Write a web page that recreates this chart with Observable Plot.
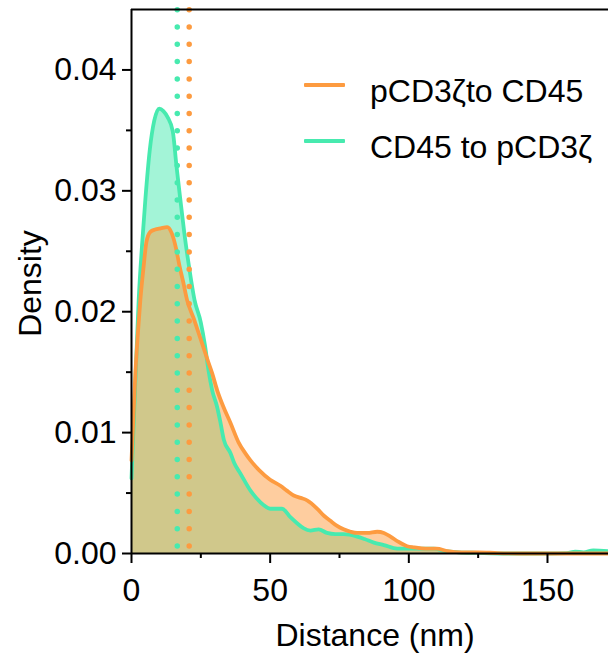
<!DOCTYPE html>
<html><head><meta charset="utf-8">
<script src="https://cdn.jsdelivr.net/npm/d3@7"></script>
<script src="https://cdn.jsdelivr.net/npm/@observablehq/plot@0.6"></script>
<style>
body{margin:0;background:#fff;font-family:"Liberation Sans",Arial,sans-serif}
#wrap{position:relative;width:608px;height:654px}
.leg{position:absolute;left:304px;font-size:32px;color:#000;white-space:nowrap}
.sw{position:absolute;left:0;width:41px;height:4px;border-radius:1px}
.lt{position:absolute;left:66px;line-height:1}
</style></head><body><div id="wrap"></div>
<script>
const seriesNames = ["pCD3ζto CD45", "CD45 to pCD3ζ"];
const seriesColors = ["#FD9B40", "#47EAAF"];
const medianDist = [20.8, 16.5];

const orangeX = [0,0.7,1.4,2.3,3.2,4.4,5.4,6.8,8.5,10.5,12.9,14.5,16,17.3,18.7,20,22.5,25,27,29.1,30.9,33.2,35.7,38.6,41,42.9,46,50,53.7,56,58.5,61,63.3,67,69.5,71.7,74,76.5,79,81.4,85,88.6,91,93.4,96,99.4,102,106,110,114,119,125,132,140,172];
const orangeY = [.0077,.0113,.0149,.0182,.0210,.0238,.0258,.0266,.0268,.0269,.0270,.0265,.0253,.0238,.0224,.0210,.0194,.0177,.0163,.0149,.0135,.0121,.0108,.0092,.0083,.0077,.0069,.0061,.0056,.0052,.0048,.0046,.0044,.0037,.0031,.0027,.0023,.0020,.0018,.0017,.0017,.0018,.0017,.0014,.0010,.0006,.0005,.0004,.0004,.0002,.0001,.0001,.00003,0,0];

const tealX = [0,0.8,1.7,2.6,3.8,5,6.6,8.2,10,11.5,13,14.9,16.2,17.6,19,20.7,22.7,25,26.5,27.8,29.1,30.9,32.1,33.3,35.7,37,39.3,42.9,45,47.7,50,54.3,57.3,59.7,62,64.5,67.5,70.5,73.5,76.5,81.4,84,87.4,91,95.8,99.4,104,109,113,118,125,135,150,157,160,163,166.5,172];
const tealY = [.0062,.0108,.0160,.0210,.0255,.0293,.0334,.0358,.0368,.0366,.0361,.0349,.0321,.0293,.0266,.0238,.0210,.0191,.0172,.0151,.0135,.0121,.0108,.0094,.0083,.0075,.0066,.0052,.0046,.0040,.0037,.0037,.0030,.0025,.0021,.0019,.0020,.0017,.0016,.0016,.0014,.0012,.0009,.0007,.0004,.0004,.0004,.0004,.0002,.0001,.00005,0,0,.00003,.00015,.0001,.00025,.0002];

const xTicks = [0, 50, 100, 150];
const xMinorTicks = [25, 75, 125];
const yTicks = [0, 0.01, 0.02, 0.03, 0.04];
const yMinorTicks = [0.005, 0.015, 0.025, 0.035];
const xLabel = "Distance (nm)";
const yLabel = "Density";

const orange = orangeX.map((x, i) => ({x, y: orangeY[i]}));
const teal = tealX.map((x, i) => ({x, y: tealY[i]}));
const medians = medianDist.map((x, i) => ({x, c: seriesColors[i]}));

const chart = Plot.plot({
  width: 608, height: 654,
  marginLeft: 131, marginRight: 0, marginTop: 9, marginBottom: 101,
  style: {fontFamily: '"Liberation Sans", Arial, sans-serif', fontSize: "32px", color: "#000", background: "#fff", overflow: "visible"},
  x: {domain: [0, 172]},
  y: {domain: [0, 0.045]},
  marks: [
    Plot.areaY(teal, {x: "x", y: "y", fill: seriesColors[1], fillOpacity: 0.5, curve: "monotone-x"}),
    Plot.areaY(orange, {x: "x", y: "y", fill: seriesColors[0], fillOpacity: 0.5, curve: "monotone-x"}),
    Plot.lineY(teal, {x: "x", y: "y", stroke: seriesColors[1], strokeWidth: 3.8, curve: "monotone-x"}),
    Plot.lineY(orange, {x: "x", y: "y", stroke: seriesColors[0], strokeWidth: 3.8, curve: "monotone-x"}),
    Plot.ruleX(medians, {x: "x", y1: 0, y2: 0.045, stroke: "c", strokeWidth: 5.5, strokeLinecap: "round", strokeDasharray: "0 17.3", strokeDashoffset: 10.3}),
    Plot.axisX({ticks: xTicks, tickSize: 10, tickPadding: 15, strokeWidth: 2, label: null, tickFormat: d3.format("d")}),
    Plot.axisX({ticks: xMinorTicks, tickSize: 5, strokeWidth: 2, label: null, tickFormat: () => ""}),
    Plot.axisY({ticks: yTicks, tickSize: 9, tickPadding: 6, strokeWidth: 2, label: null, tickFormat: d3.format(".2f")}),
    Plot.axisY({ticks: yMinorTicks, tickSize: 5, strokeWidth: 2, label: null, tickFormat: () => ""}),
    Plot.ruleX([0], {stroke: "#000", strokeWidth: 2}),
    Plot.ruleY([0], {stroke: "#000", strokeWidth: 2}),
    Plot.ruleY([0.045], {stroke: "#000", strokeWidth: 2}),
    Plot.text([xLabel], {text: d => d, frameAnchor: "bottom", lineAnchor: "middle", textAnchor: "middle", dx: 5, dy: 82, fontSize: 32}),
    Plot.text([yLabel], {text: d => d, frameAnchor: "left", lineAnchor: "middle", textAnchor: "middle", rotate: -90, dx: -101, dy: 2, fontSize: 32})
  ]
});
const wrap = document.getElementById("wrap");
wrap.appendChild(chart);
const legTops = [85, 141];
seriesNames.forEach((name, i) => {
  const d = document.createElement("div");
  d.className = "leg";
  d.style.top = (legTops[i]) + "px";
  d.innerHTML = `<div class="sw" style="top:-2px;background:${seriesColors[i]}"></div><div class="lt" style="top:-10px">${name}</div>`;
  wrap.appendChild(d);
});
</script></body></html>
